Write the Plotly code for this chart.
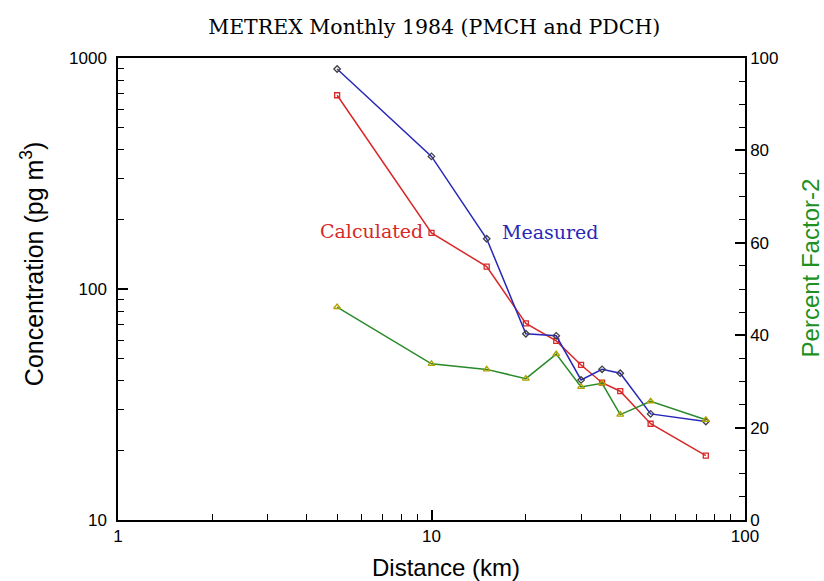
import plotly.graph_objects as go

distance = [5, 10, 15, 20, 25, 30, 35, 40, 50, 75]
measured = [896, 375, 165, 64, 62.7, 40.4, 44.9, 43.2, 28.8, 26.7]
calculated = [690, 175, 125, 71, 59.6, 46.9, 39.3, 36.1, 26.1, 19.0]
percent_f2 = [46.1, 33.8, 32.6, 30.6, 35.9, 28.8, 29.6, 22.8, 25.7, 21.7]

fig = go.Figure()
fig.add_trace(go.Scatter(x=distance, y=calculated, mode="lines+markers",
                         line=dict(color="#d82828", width=1.5),
                         marker=dict(symbol="square-open", size=5, color="#d82828", line=dict(width=1.3)),
                         showlegend=False))
fig.add_trace(go.Scatter(x=distance, y=measured, mode="lines+markers",
                         line=dict(color="#2828b8", width=1.5),
                         marker=dict(symbol="diamond-open", size=5, color="#404040", line=dict(width=1.3)),
                         showlegend=False))
fig.add_trace(go.Scatter(x=distance, y=percent_f2, mode="lines+markers", yaxis="y2",
                         line=dict(color="#288a28", width=1.5),
                         marker=dict(symbol="triangle-up-open", size=6, color="#b0a000", line=dict(width=1.3)),
                         showlegend=False))

tickfont = dict(family="Liberation Sans", size=17, color="black")
titlefont = dict(family="Liberation Sans", size=24, color="black")
fig.update_layout(
    width=824, height=581,
    margin=dict(l=118, r=79, t=58, b=61),
    plot_bgcolor="white", paper_bgcolor="white",
    title=dict(text="METREX Monthly 1984 (PMCH and PDCH)", x=0.527, xanchor="center", y=0.953, yanchor="middle",
               font=dict(family="DejaVu Serif", size=20.5, color="black")),
    xaxis=dict(type="log", range=[0, 2], tickvals=[1, 10, 100], ticktext=["1", "10", "100"],
               ticks="inside", ticklen=10, tickwidth=1.5, tickcolor="black",
               showline=True, linecolor="black", linewidth=1.5, mirror=True, showgrid=False, zeroline=False,
               minor=dict(ticks="inside", ticklen=6, tickwidth=1.2, tickcolor="black", dtick="D1", showgrid=False),
               tickfont=tickfont),
    yaxis=dict(type="log", range=[1, 3], tickvals=[10, 100, 1000], ticktext=["10", "100", "1000"],
               ticks="inside", ticklen=10, tickwidth=1.5, tickcolor="black", ticklabelstandoff=6,
               showline=True, linecolor="black", linewidth=1.5, mirror=True, showgrid=False, zeroline=False,
               minor=dict(ticks="inside", ticklen=6, tickwidth=1.2, tickcolor="black", dtick="D1", showgrid=False),
               tickfont=tickfont),
    yaxis2=dict(overlaying="y", side="right", range=[0, 100], tickvals=[0, 20, 40, 60, 80, 100],
                ticks="inside", ticklen=10, tickwidth=1.5, tickcolor="black",
                showline=True, linecolor="black", linewidth=1.5, showgrid=False, zeroline=False,
                minor=dict(ticks="inside", ticklen=6, tickwidth=1.2, tickcolor="black", dtick=5, showgrid=False),
                tickfont=tickfont),
    annotations=[
        dict(text="Distance (km)", x=0.523, y=-0.102, xref="paper", yref="paper", showarrow=False,
             xanchor="center", yanchor="middle", font=titlefont),
        dict(text="Concentration (pg m<sup>3</sup>)", x=-0.137, y=0.554, xref="paper", yref="paper",
             showarrow=False, textangle=-90, xanchor="center", yanchor="middle",
             font=dict(family="Liberation Sans", size=25, color="black")),
        dict(text="Percent Factor-2", x=1.104, y=0.545, xref="paper", yref="paper",
             showarrow=False, textangle=-90, xanchor="center", yanchor="middle",
             font=dict(family="Liberation Sans", size=24, color="#209020")),
        dict(text="Calculated", x=0.81, y=2.25, xref="x", yref="y", showarrow=False,
             font=dict(family="DejaVu Serif", size=19, color="#d82828")),
        dict(text="Measured", x=1.378, y=2.245, xref="x", yref="y", showarrow=False,
             font=dict(family="DejaVu Serif", size=19, color="#2828b8")),
    ],
)

fig.write_html("out.html", config={"displayModeBar": False},
               post_script="document.body.style.margin='0';document.body.style.overflow='hidden';")
